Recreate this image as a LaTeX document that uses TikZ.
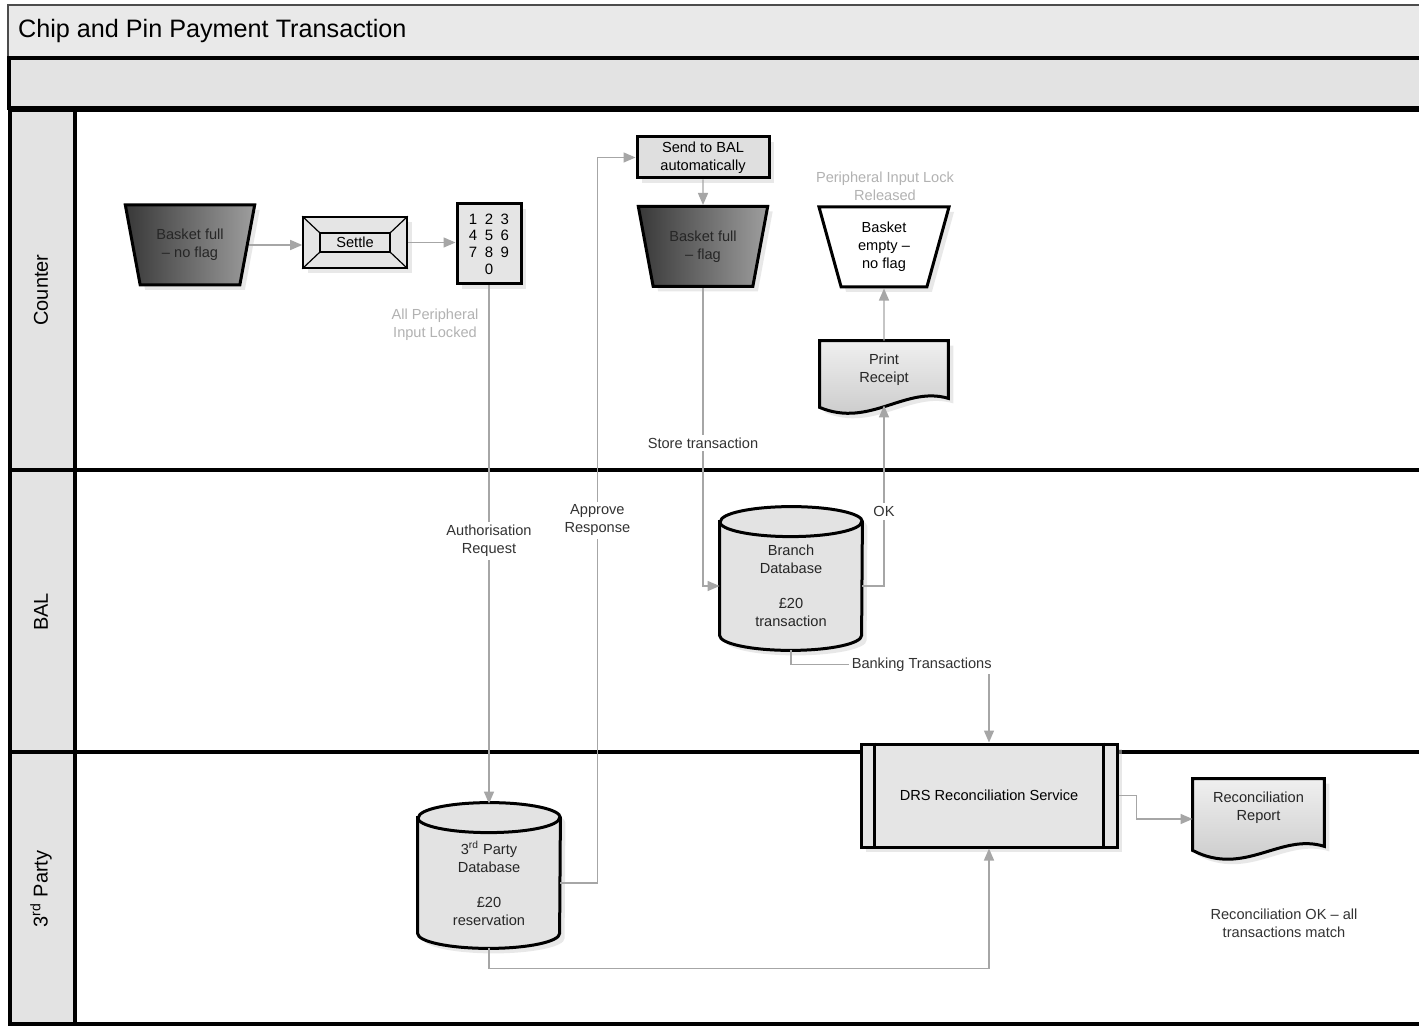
\documentclass[tikz,border=0pt]{standalone}
\usepackage{fontspec}
\setmainfont{Liberation Sans}
\usetikzlibrary{arrows.meta, shapes.geometric, shadows}
\pgfdeclarelayer{back}
\pgfdeclarelayer{mid}
\pgfsetlayers{back,mid,main}

\begin{document}
\begin{tikzpicture}[x=0.5pt, y=-0.5pt,
  font=\fontsize{7.3}{9}\selectfont,
  shadowed/.style={drop shadow={shadow xshift=2.5pt, shadow yshift=-2.5pt, fill=gray!35}},
  procbox/.style={draw, line width=1.5pt, fill=gray!20, shadowed, align=center, inner sep=2pt},
  basket/.style={trapezium, trapezium stretches=true, trapezium left angle=75,
    trapezium right angle=75, shape border rotate=180, draw, line width=1.5pt,
    minimum width=65pt, minimum height=40pt, align=center, shadowed},
  darkbasket/.style={basket, left color=black!78, right color=black!38, text=black!85},
  dbbody/.style={align=center, inner sep=0pt, text=black!85},
  shapeline/.style={draw, line width=1.5pt, shadowed},
  flow/.style={draw=gray!70, line width=0.7pt, -{Triangle[length=6pt,width=5pt]}},
  lbl/.style={fill=white, inner sep=1.5pt, align=center, text=black!80},
  note/.style={align=center, text=gray!60},
  lane/.style={line width=1.8pt}]

  \useasboundingbox (0,0) rectangle (1419,1026);

  % frame and swim lanes
  \begin{pgfonlayer}{back}
    \fill[white] (0,0) rectangle (1419,1026);
    \fill[gray!17] (8,5) rectangle (1419,58);
    \draw[gray!60!black, line width=0.8pt] (1419,5) -- (8,5) -- (8,58);
    \node[anchor=west, font=\fontsize{12.6}{15}\selectfont] (title) at (11,31) {Chip and Pin Payment Transaction};
    \fill[gray!22] (9,58) rectangle (1419,108);
    \draw[lane] (1419,58) -- (9,58) -- (9,108) -- (1419,108);
    \fill[gray!22] (10,110) rectangle (75,1024);
    \draw[lane] (10,108) -- (10,1024) -- (1419,1024);
    \draw[lane] (75,110) -- (75,1024);
    \foreach \y in {110,470,752}
      \draw[lane] (10,\y) -- (1419,\y);
    \node[rotate=90, font=\fontsize{10}{12}\selectfont] (counter) at (41,290) {Counter};
    \node[rotate=90, font=\fontsize{10}{12}\selectfont] (bal) at (41,612) {BAL};
    \node[rotate=90, font=\fontsize{10}{12}\selectfont] (third) at (41,889) {3\textsuperscript{rd} Party};
  \end{pgfonlayer}

  \node[darkbasket] (bfull) at (190,245) {Basket full\\– no flag};
  \node[procbox, line width=0.8pt, minimum width=52pt, minimum height=25.5pt] (settle) at (355,242.5) {Settle};
  \node[procbox, minimum width=32pt, minimum height=40pt, font=\fontsize{7.5}{8.3}\selectfont] (keypad) at (489,244)
    {1\enspace2\enspace3\\4\enspace5\enspace6\\7\enspace8\enspace9\\0};
  \node[procbox, fill=gray!25, minimum width=66pt, minimum height=20.5pt] (send) at (703,157.5) {Send to BAL\\automatically};
  \node[darkbasket] (bflag) at (703,246.5) {Basket full\\– flag};
  \node[basket, fill=white] (bempty) at (884,247) {Basket\\empty –\\no flag};
  \node[note] (released) at (885,186) {Peripheral Input Lock\\Released};
  \node[note] (locked) at (435,325) {All Peripheral\\Input Locked};

  \node[dbbody, minimum width=64pt, minimum height=29pt] (rcpt) at (884,370) {Print\\Receipt};
  \node[dbbody, minimum width=71pt, minimum height=64pt] (bdb) at (791,586) {Branch\\Database\\[8.5pt]£20\\transaction};
  \node[dbbody, minimum width=71pt, minimum height=65pt] (tdb) at (489,883) {3\textsuperscript{rd} Party\\Database\\[8.5pt]£20\\reservation};
  \node[procbox, minimum width=128pt, minimum height=51.5pt] (drs) at (989,795.5) {DRS Reconciliation Service};
  \node[dbbody, minimum width=65.5pt, minimum height=29pt] (rep) at (1258.5,808) {Reconciliation\\Report};
  \node[align=center, text=black!80] (recok) at (1284,923) {Reconciliation OK – all\\transactions match};

  % document and database outlines
  \begin{pgfonlayer}{mid}
    \path[shapeline, top color=gray!12, bottom color=gray!45] (rcpt.north west) -- (rcpt.north east)
      -- ([shift={(0,-1)}]rcpt.south east) .. controls ([shift={(-43,-14)}]rcpt.south east)
      and ([shift={(50,29)}]rcpt.south west) .. ([shift={(0,8)}]rcpt.south west) -- cycle;
    \path[shapeline, top color=gray!12, bottom color=gray!45] (rep.north west) -- (rep.north east)
      -- ([shift={(0,9)}]rep.south east) .. controls ([shift={(-44,-5)}]rep.south east)
      and ([shift={(52,40)}]rep.south west) .. ([shift={(0,13)}]rep.south west) -- cycle;
    \foreach \db in {bdb,tdb} {
      \path[shapeline, fill=gray!22] (\db.north west) -- ([shift={(0,-15)}]\db.south west)
        arc[start angle=180, end angle=360, x radius=35.5pt, y radius=7.5pt]
        -- (\db.north east) arc[start angle=0, end angle=180, x radius=35.5pt, y radius=7.5pt] -- cycle;
      \draw[line width=1.5pt] (\db.north west) arc[start angle=180, end angle=360, x radius=35.5pt, y radius=7.5pt];
    }
  \end{pgfonlayer}

  \draw[line width=0.8pt] ([shift={(18,17)}]settle.north west) rectangle ([shift={(-18,-17)}]settle.south east);
  \draw[line width=0.6pt] (settle.north west) -- ([shift={(18,17)}]settle.north west)
    (settle.north east) -- ([shift={(-18,17)}]settle.north east)
    (settle.south west) -- ([shift={(18,-17)}]settle.south west)
    (settle.south east) -- ([shift={(-18,-17)}]settle.south east);
  \draw[line width=1.5pt] ([xshift=7.5pt]drs.north west) -- ([xshift=7.5pt]drs.south west)
    ([xshift=-7.5pt]drs.north east) -- ([xshift=-7.5pt]drs.south east);

  \draw[flow] (bfull.east) -- (bfull.east -| settle.west);
  \draw[flow] (settle.east) -- (settle.east -| keypad.west);
  \draw[flow, shorten >=7pt] (keypad.south) -- node[lbl, pos=0.48] {Authorisation\\Request} (tdb.north);
  \draw[flow] (tdb.east) -- ++(37,0) |- node[lbl, pos=0.25] {Approve\\Response} (send.west);
  \draw[flow] (send.south) -- (bflag.north);
  \draw[flow] (bflag.south) |- node[lbl, pos=0.26] {Store transaction} (bdb.west);
  \draw[flow, shorten >=3pt] (bdb.east) -| node[lbl, pos=0.7] {OK} (rcpt.south);
  \draw[flow] (rcpt.north) -- (bempty.south);
  \draw[flow] (bdb.south) -- ++(0,14) -| node[lbl, pos=0.33] {Banking Transactions} (drs.north);
  \draw[flow] (tdb.south) -- ++(0,20) -| (drs.south);
  \draw[flow] (drs.east) -- ++(18,0) |- ([yshift=-5.5pt]rep.west);
\end{tikzpicture}
\end{document}
